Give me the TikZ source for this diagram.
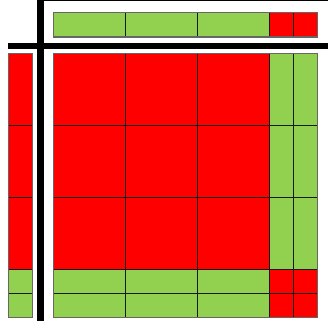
\documentclass[tikz,border=0pt]{standalone}
\usepackage{tikz}
\definecolor{cellred}{RGB}{255,0,0}
\definecolor{cellgreen}{RGB}{146,208,80}

\begin{document}
\begin{tikzpicture}[x=1pt,y=-1pt,
  cellline/.style={draw=black!90,line width=1pt},
  frame/.style={draw=black!60,line width=1pt},
  divider/.style={fill=black}]
\useasboundingbox (0,0) rectangle (328,321);
% dividers
\fill[divider] (37,0) rectangle (44,321);
\fill[divider] (8,43) rectangle (328,49);
\fill[divider] (44,0) rectangle (328,1.5);
% top strip
\fill[cellgreen] (53,13) rectangle (269,37);
\fill[cellred] (269,13) rectangle (317,37);
\draw[cellline] (125,13)--(125,37) (197,13)--(197,37) (269,13)--(269,37) (293,13)--(293,37);
\draw[frame] (53,13) rectangle (317,37);
% left strip
\fill[cellred] (8,53) rectangle (32,269);
\fill[cellgreen] (8,269) rectangle (32,317);
\draw[cellline] (8,125)--(32,125) (8,197)--(32,197) (8,269)--(32,269) (8,293)--(32,293);
\draw[frame] (8,53) rectangle (32,317);
% main block
\fill[cellred] (53,53) rectangle (269,269);
\fill[cellred] (269,269) rectangle (317,317);
\fill[cellgreen] (269,53) rectangle (317,269);
\fill[cellgreen] (53,269) rectangle (269,317);
\foreach \p in {125,197,269,293} {
  \draw[cellline] (\p,53)--(\p,317);
  \draw[cellline] (53,\p)--(317,\p);
}
\draw[frame] (53,53) rectangle (317,317);
\end{tikzpicture}
\end{document}
